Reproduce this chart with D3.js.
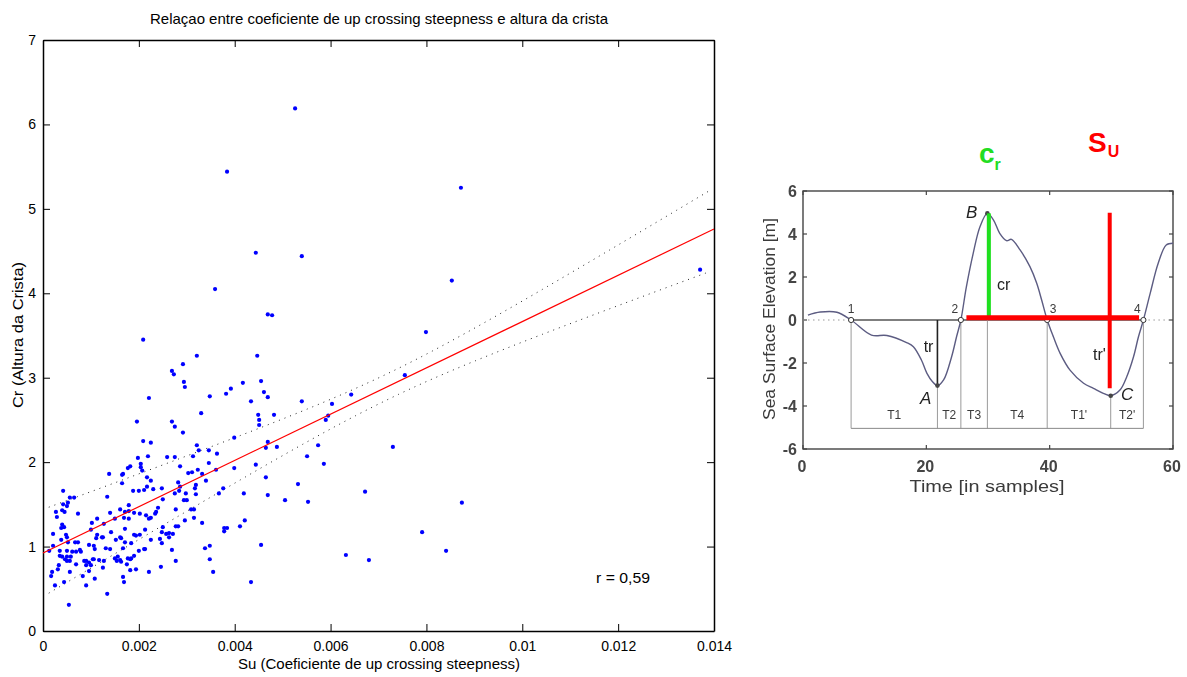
<!DOCTYPE html>
<html>
<head>
<meta charset="utf-8">
<script src="https://cdn.jsdelivr.net/npm/d3@7"></script>
<style>
  html, body { margin: 0; padding: 0; background: #fff; }
  svg { display: block; font-family: "Liberation Sans", Arial, Helvetica, sans-serif; }
</style>
</head>
<body>
<svg id="fig" width="1187" height="677"></svg>
<script>
// ---------- Scatter: up-crossing steepness (Su) vs crest height (Cr) ----------
const suValues = [
  0.00526,0.00384,0.00872,0.00444,0.00540,0.00359,0.00469,0.00478,0.00853,0.00799,
  0.01371,0.00209,0.00755,0.00321,0.00447,0.00292,0.00269,0.00273,0.00294,0.00296,
  0.00417,0.00455,0.00392,0.00382,0.00461,0.00469,0.00221,0.00348,0.00434,0.00540,
  0.00330,0.00449,0.00451,0.00451,0.00482,0.00643,0.00603,0.00595,0.00590,0.00269,
  0.00275,0.00196,0.00292,0.00225,0.00209,0.00399,0.00321,0.00469,0.00325,0.00346,
  0.00219,0.00198,0.00259,0.00275,0.00313,0.00363,0.00465,0.00488,0.00574,0.00730,
  0.00346,0.00204,0.00204,0.00182,0.00177,0.00286,0.00444,0.00399,0.00323,0.00361,
  0.00303,0.00311,0.00332,0.00207,0.00167,0.00138,0.00551,0.00586,0.00465,0.00532,
  0.00469,0.00505,0.00553,0.00672,0.00791,0.00841,0.00455,0.00632,0.00680,0.00434,0.00874,
  0.00225,0.00282,0.00340,0.00217,0.00230,0.00248,0.00286,0.00284,0.00275,0.00319,
  0.00317,0.00376,0.00298,0.00319,0.00367,0.00419,0.00250,0.00300,0.00294,0.00277,
  0.00240,0.00309,0.00315,0.00236,0.00234,0.00225,0.00221,0.00215,0.00296,0.00315,
  0.00332,0.00421,0.00277,0.00282,0.00250,0.00248,0.00213,0.00263,0.00271,0.00257,
  0.00263,0.00378,0.00384,0.00378,0.00411,0.00244,0.00225,0.00248,0.00213,0.00269,
  0.00338,0.00348,0.00348,0.00277,0.00246,0.00221,0.00355,
  0.00165,0.00217,0.00165,0.00042,0.00188,0.00200,0.00211,0.00056,0.00065,0.00134,
  0.00052,0.00050,0.00042,0.00073,0.00040,0.00045,0.00027,0.00029,0.00179,0.00161,
  0.00140,0.00171,0.00179,0.00190,0.00202,0.00169,0.00150,0.00179,0.00113,0.00102,
  0.00127,0.00040,0.00044,0.00038,0.00100,0.00142,0.00171,0.00021,0.00113,0.00111,
  0.00123,0.00125,0.00048,0.00050,0.00038,0.00161,0.00163,0.00190,0.00194,0.00202,
  0.00067,0.00073,0.00052,0.00096,0.00106,0.00108,0.00021,0.00152,0.00184,0.00171,
  0.00131,0.00140,0.00167,0.00077,0.00079,0.00013,0.00200,0.00211,0.00050,0.00061,
  0.00069,0.00035,0.00035,0.00040,0.00050,0.00058,0.00046,0.00050,0.00056,0.00086,
  0.00090,0.00104,0.00106,0.00117,0.00150,0.00156,0.00190,0.00184,0.00161,0.00163,
  0.00177,0.00182,0.00033,0.00069,0.00096,0.00100,0.00090,0.00127,0.00154,0.00125,
  0.00175,0.00194,0.00182,0.00031,0.00096,0.00056,0.00019,0.00017,0.00083,0.00108,
  0.00167,0.00169,0.00044,0.00090,0.00025,0.00134,0.00054
];
const crValues = [
  6.19,5.44,5.25,4.48,4.44,4.05,3.75,3.74,4.15,3.54,
  4.28,3.45,3.03,3.26,3.26,3.16,3.08,3.04,2.95,2.89,
  2.94,2.96,2.87,2.81,2.83,2.77,2.76,2.78,2.72,2.72,
  2.58,2.56,2.50,2.44,2.56,2.80,2.69,2.55,2.50,2.48,
  2.42,2.48,2.35,2.23,2.25,2.29,2.20,2.24,2.14,2.14,
  2.07,2.05,2.06,2.06,2.07,2.10,2.17,2.18,2.20,2.18,
  1.99,1.98,1.94,1.95,1.93,1.95,1.97,1.93,1.91,1.91,
  1.87,1.88,1.86,1.90,1.86,1.86,2.07,1.98,1.82,1.74,
  1.61,1.55,1.53,1.65,1.17,0.95,1.02,0.90,0.84,0.58,1.52,
  1.78,1.76,1.78,1.71,1.68,1.69,1.71,1.66,1.63,1.73,
  1.69,1.69,1.63,1.62,1.63,1.63,1.56,1.55,1.55,1.44,
  1.46,1.44,1.44,1.41,1.39,1.34,1.33,1.37,1.31,1.34,
  1.28,1.31,1.24,1.24,1.23,1.17,1.20,1.16,1.15,1.15,
  1.11,1.22,1.22,1.18,1.24,1.09,1.08,1.04,0.97,0.96,
  0.98,1.01,0.85,0.83,0.76,0.70,0.70,
  1.85,1.82,1.75,1.66,1.66,1.66,1.67,1.58,1.58,1.59,
  1.52,1.48,1.50,1.39,1.43,1.41,1.41,1.35,1.49,1.44,
  1.40,1.41,1.42,1.40,1.39,1.34,1.33,1.33,1.33,1.28,
  1.27,1.26,1.23,1.22,1.20,1.17,1.21,1.15,1.14,1.10,
  1.11,1.11,1.14,1.11,1.08,1.11,1.10,1.14,1.13,1.14,
  1.05,1.05,1.05,1.02,1.01,0.97,1.01,1.08,1.04,1.05,
  0.98,0.97,0.98,0.96,0.94,0.95,0.95,0.97,0.95,0.94,
  0.94,0.95,0.89,0.88,0.88,0.88,0.85,0.83,0.83,0.83,
  0.83,0.85,0.85,0.84,0.86,0.88,0.89,0.86,0.84,0.82,
  0.86,0.85,0.78,0.79,0.81,0.78,0.78,0.83,0.83,0.75,
  0.79,0.73,0.72,0.73,0.71,0.70,0.70,0.65,0.65,0.62,
  0.64,0.58,0.58,0.54,0.54,0.44,0.31
];
const suTicks = [0, 0.002, 0.004, 0.006, 0.008, 0.01, 0.012, 0.014];
const suTickLabels = ["0", "0.002", "0.004", "0.006", "0.008", "0.01", "0.012", "0.014"];
const crTicks = [0, 1, 2, 3, 4, 5, 6, 7];

// linear fit Cr = a + b*Su and its dotted confidence band
const fitIntercept = 0.924;
const fitSlope = 274.1;
const bandCenter = 0.00724;   // Su where the band is narrowest
const bandMin = 0.154;        // half-width there
const bandCurv = 4646;        // growth of squared half-width with (Su - centre)^2
const bandStart = 0.00012;
const corrLabel = "r = 0,59";

const scatterTitle = "Relaçao entre coeficiente de up crossing steepness e altura da crista";
const scatterXLabel = "Su (Coeficiente de up crossing steepness)";
const scatterYLabel = "Cr (Altura da Crista)";

// ---------- Wave record sketch: zero crossings, crest and troughs ----------
const waveTime = [0.8, 2.8, 5.5, 7.8, 11.1, 13.6, 16.8, 17.9, 19.2, 20.1, 21.0, 21.8, 22.8, 24.1, 24.9,
  25.6, 26.5, 27.6, 28.7, 29.9, 30.9, 31.9, 33.0, 33.8, 35.2, 36.8, 37.9, 38.7, 39.6, 40.6, 41.7,
  43.3, 45.5, 47.1, 48.7, 49.9, 51.4, 52.5, 53.6, 54.4, 55.2, 56.3, 57.6, 58.9, 60.0];
const waveElev = [0.23, 0.37, 0.36, 0.0, -0.70, -0.72, -1.05, -1.24, -1.86, -2.48, -2.87, -3.05, -2.79, -1.71, -0.78,
  0.0, 1.55, 3.10, 4.34, 4.96, 4.65, 4.03, 3.69, 3.75, 3.26, 2.48, 1.71, 0.93, 0.0, -0.78, -1.55,
  -2.33, -2.94, -3.18, -3.41, -3.52, -3.26, -2.64, -1.71, -0.78, 0.0, 1.24, 2.64, 3.49, 3.57];
const crossTimes = [7.8, 25.6, 39.6, 55.2];
const crossNames = ["1", "2", "3", "4"];
const extremaTime = [21.8, 29.9, 49.9];
const extremaElev = [-3.05, 4.96, -3.52];
const extremaNames = ["A", "B", "C"];
const intervalBounds = [7.8, 21.8, 25.6, 29.9, 39.6, 49.9, 55.2];
const intervalNames = ["T1", "T2", "T3", "T4", "T1'", "T2'"];
const intervalBase = -5.04;
const timeTicks = [0, 20, 40, 60];
const elevTicks = [-6, -4, -2, 0, 2, 4, 6];
const suSpan = [26.5, 54.5];    // red horizontal marker (Su)
const suLevel = 0.11;

// ======================================================================
const svg = d3.select("#fig");
svg.append("rect").attr("width", 1187).attr("height", 677).attr("fill", "#fff");

const defs = svg.append("defs");
defs.append("filter").attr("id", "soft")
  .append("feGaussianBlur").attr("stdDeviation", 0.55);

// ---------------- left: scatter plot ----------------
const x = d3.scaleLinear().domain([0, 0.014]).range([43, 714]);
const y = d3.scaleLinear().domain([0, 7]).range([631, 40]);
const L = svg.append("g");

function styleAxis(g) {
  g.select(".domain").attr("stroke", "#000").attr("stroke-width", 1.5);
  g.selectAll(".tick line").attr("stroke", "#000").attr("stroke-width", 1);
  g.selectAll(".tick text").attr("font-size", 14).attr("fill", "#000")
    .attr("font-family", "'Liberation Sans', Arial, sans-serif");
}

L.append("g").attr("transform", "translate(0,631)")
  .call(d3.axisBottom(x).tickValues(suTicks).tickFormat((d, i) => suTickLabels[i])
    .tickSizeInner(-7).tickSizeOuter(0).tickPadding(10))
  .call(styleAxis);
L.append("g").attr("transform", "translate(0,40)")
  .call(d3.axisTop(x).tickValues(suTicks).tickFormat("").tickSizeInner(-7).tickSizeOuter(0))
  .call(styleAxis);
L.append("g").attr("transform", "translate(43,0)")
  .call(d3.axisLeft(y).tickValues(crTicks).tickFormat(d3.format("d"))
    .tickSizeInner(-7).tickSizeOuter(0).tickPadding(7))
  .call(styleAxis);
L.append("g").attr("transform", "translate(714,0)")
  .call(d3.axisRight(y).tickValues(crTicks).tickFormat("").tickSizeInner(-7).tickSizeOuter(0))
  .call(styleAxis);

// confidence band (dotted)
const halfWidth = s => Math.sqrt(bandMin * bandMin + bandCurv * (s - bandCenter) * (s - bandCenter));
const bandS = d3.range(bandStart, 0.014 + 1e-9, 0.0001);
const fit = s => fitIntercept + fitSlope * s;
const lineGen = d3.line().x(d => x(d[0])).y(d => y(d[1]));
[1, -1].forEach(sign => {
  L.append("path")
    .attr("d", lineGen(bandS.map(s => [s, fit(s) + sign * halfWidth(s)])))
    .attr("fill", "none").attr("stroke", "#222").attr("stroke-width", 1)
    .attr("stroke-dasharray", "1,5");
});

// data points
L.append("g").selectAll("circle")
  .data(d3.zip(suValues, crValues))
  .join("circle")
  .attr("cx", d => x(d[0])).attr("cy", d => y(d[1]))
  .attr("r", 2.1).attr("fill", "#0000ff");

// regression line
L.append("path")
  .attr("d", lineGen([[0, fit(0)], [0.014, fit(0.014)]]))
  .attr("fill", "none").attr("stroke", "#ff0000").attr("stroke-width", 1.2);

// texts
L.append("text").attr("x", 379).attr("y", 24).attr("text-anchor", "middle")
  .attr("font-size", 15).attr("textLength", 458).attr("lengthAdjust", "spacingAndGlyphs")
  .text(scatterTitle);
L.append("text").attr("x", 379).attr("y", 669).attr("text-anchor", "middle")
  .attr("font-size", 14).attr("textLength", 282).attr("lengthAdjust", "spacingAndGlyphs")
  .text(scatterXLabel);
L.append("text").attr("transform", "translate(23,335) rotate(-90)").attr("text-anchor", "middle")
  .attr("font-size", 14).attr("textLength", 146).attr("lengthAdjust", "spacingAndGlyphs")
  .text(scatterYLabel);
L.append("text").attr("x", 596).attr("y", 583).attr("font-size", 14)
  .attr("textLength", 54).attr("lengthAdjust", "spacingAndGlyphs").text(corrLabel);

// ---------------- right: wave record sketch ----------------
const tx = d3.scaleLinear().domain([0, 60]).range([803, 1173]);
const ey = d3.scaleLinear().domain([-6, 6]).range([449, 191]);
const R = svg.append("g").attr("filter", "url(#soft)");
const ink = "#3a3a3a";

// frame and ticks
R.append("rect").attr("x", tx(0)).attr("y", ey(6))
  .attr("width", tx(60) - tx(0)).attr("height", ey(-6) - ey(6))
  .attr("fill", "none").attr("stroke", "#444").attr("stroke-width", 1.4);
elevTicks.forEach(v => {
  R.append("line").attr("x1", tx(0)).attr("x2", tx(0) + 4).attr("y1", ey(v)).attr("y2", ey(v))
    .attr("stroke", "#444").attr("stroke-width", 1.2);
  R.append("line").attr("x1", tx(60)).attr("x2", tx(60) - 4).attr("y1", ey(v)).attr("y2", ey(v))
    .attr("stroke", "#444").attr("stroke-width", 1.2);
  R.append("text").attr("x", 797).attr("y", ey(v)).attr("dy", "0.36em").attr("text-anchor", "end")
    .attr("font-size", 16).attr("font-weight", "bold").attr("fill", "#444").text(v);
});
timeTicks.forEach(v => {
  R.append("line").attr("x1", tx(v)).attr("x2", tx(v)).attr("y1", ey(-6)).attr("y2", ey(-6) - 4)
    .attr("stroke", "#444").attr("stroke-width", 1.2);
  R.append("line").attr("x1", tx(v)).attr("x2", tx(v)).attr("y1", ey(6)).attr("y2", ey(6) + 4)
    .attr("stroke", "#444").attr("stroke-width", 1.2);
  R.append("text").attr("x", tx(v) - 1).attr("y", 472).attr("text-anchor", "middle")
    .attr("font-size", 16).attr("font-weight", "bold").attr("fill", "#444").text(v);
});
R.append("text").attr("x", 987).attr("y", 492).attr("text-anchor", "middle")
  .attr("font-size", 17).attr("fill", ink).attr("textLength", 155).attr("lengthAdjust", "spacingAndGlyphs")
  .text("Time [in samples]");
R.append("text").attr("transform", "translate(775,319) rotate(-90)").attr("text-anchor", "middle")
  .attr("font-size", 17).attr("fill", ink).attr("textLength", 202).attr("lengthAdjust", "spacingAndGlyphs")
  .text("Sea Surface Elevation [m]");

// zero level: dotted outside the record window, solid between crossings 1 and 4
const c0 = crossTimes[0], c3 = crossTimes[crossTimes.length - 1];
[[0, c0], [c3, 60]].forEach(seg => {
  R.append("line").attr("x1", tx(seg[0])).attr("x2", tx(seg[1])).attr("y1", ey(0)).attr("y2", ey(0))
    .attr("stroke", "#999").attr("stroke-width", 1).attr("stroke-dasharray", "1.5,3.5");
});
R.append("line").attr("x1", tx(c0)).attr("x2", tx(c3)).attr("y1", ey(0)).attr("y2", ey(0))
  .attr("stroke", "#555").attr("stroke-width", 1.3);

// interval guides
const guideTop = t => {
  const k = extremaTime.indexOf(t);
  return k >= 0 ? extremaElev[k] : 0;
};
intervalBounds.forEach(t => {
  R.append("line").attr("x1", tx(t)).attr("x2", tx(t)).attr("y1", ey(guideTop(t))).attr("y2", ey(intervalBase))
    .attr("stroke", "#9a9a9a").attr("stroke-width", 1);
});
R.append("line").attr("x1", tx(c0)).attr("x2", tx(c3)).attr("y1", ey(intervalBase)).attr("y2", ey(intervalBase))
  .attr("stroke", "#888").attr("stroke-width", 1);
intervalNames.forEach((n, i) => {
  R.append("text").attr("x", (tx(intervalBounds[i]) + tx(intervalBounds[i + 1])) / 2).attr("y", ey(-4.6))
    .attr("text-anchor", "middle").attr("font-size", 12).attr("fill", ink).text(n);
});

// trough depth of A
R.append("line").attr("x1", tx(extremaTime[0])).attr("x2", tx(extremaTime[0]))
  .attr("y1", ey(0)).attr("y2", ey(extremaElev[0]))
  .attr("stroke", "#222").attr("stroke-width", 1.6);

// elevation record
R.append("path")
  .attr("d", d3.line().x((d, i) => tx(waveTime[i])).y(d => ey(d)).curve(d3.curveCatmullRom)(waveElev))
  .attr("fill", "none").attr("stroke", "#5c5c82").attr("stroke-width", 1.4);

// crossing markers and names
crossTimes.forEach((t, i) => {
  R.append("circle").attr("cx", tx(t)).attr("cy", ey(0)).attr("r", 2.6)
    .attr("fill", "#fff").attr("stroke", "#333").attr("stroke-width", 1);
  const dx = [0, -6, 6, -6][i];
  R.append("text").attr("x", tx(t) + dx).attr("y", 312.5).attr("text-anchor", "middle")
    .attr("font-size", 12).attr("fill", ink).text(crossNames[i]);
});
extremaTime.forEach((t, i) => {
  R.append("circle").attr("cx", tx(t)).attr("cy", ey(extremaElev[i])).attr("r", 2.3)
    .attr("fill", "#444");
});
const extremaLabelPos = [[920, 404], [966, 218], [1121, 400]];
extremaNames.forEach((n, i) => {
  R.append("text").attr("x", extremaLabelPos[i][0]).attr("y", extremaLabelPos[i][1])
    .attr("font-size", 17).attr("font-style", "italic").attr("fill", "#222").text(n);
});
R.append("text").attr("x", tx(extremaTime[0]) - 4).attr("y", ey(-1.47)).attr("text-anchor", "end")
  .attr("font-size", 16).attr("fill", "#222").text("tr");
R.append("text").attr("x", 997).attr("y", ey(1.40))
  .attr("font-size", 16).attr("fill", "#222").text("cr");
R.append("text").attr("x", 1093).attr("y", ey(-1.86))
  .attr("font-size", 16).attr("fill", "#222").text("tr'");

// ---------------- colour highlights: crest height and steepness ----------------
const H = svg.append("g");
H.append("line").attr("x1", tx(extremaTime[1]) + 1.5).attr("x2", tx(extremaTime[1]) + 1.5)
  .attr("y1", ey(extremaElev[1])).attr("y2", ey(0.15))
  .attr("stroke", "#1fe01f").attr("stroke-width", 4);
H.append("line").attr("x1", tx(suSpan[0])).attr("x2", tx(suSpan[1]))
  .attr("y1", ey(suLevel)).attr("y2", ey(suLevel))
  .attr("stroke", "#ff0000").attr("stroke-width", 5);
H.append("line").attr("x1", tx(extremaTime[2]) - 1).attr("x2", tx(extremaTime[2]) - 1)
  .attr("y1", ey(4.99)).attr("y2", ey(-3.18))
  .attr("stroke", "#ff0000").attr("stroke-width", 4);

const crTag = H.append("text").attr("x", 979).attr("y", 163)
  .attr("font-weight", "bold").attr("fill", "#22dd22");
crTag.append("tspan").attr("font-size", 28).text("c");
crTag.append("tspan").attr("font-size", 16).attr("dy", 7).text("r");
const suTag = H.append("text").attr("x", 1088).attr("y", 152)
  .attr("font-weight", "bold").attr("fill", "#ff0000");
suTag.append("tspan").attr("font-size", 28).text("S");
suTag.append("tspan").attr("font-size", 16).attr("dy", 5).attr("dx", 1).text("U");
</script>
</body>
</html>
